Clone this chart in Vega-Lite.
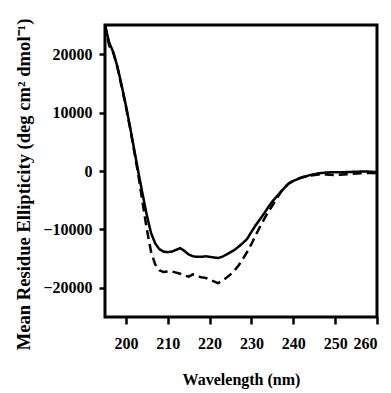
{
  "$schema": "https://vega.github.io/schema/vega-lite/v6.json",
  "autosize": "none",
  "width": 272,
  "height": 292,
  "padding": {"left": 105, "top": 25, "right": 14, "bottom": 76},
  "background": "white",
  "config": {
    "view": {"stroke": "black", "strokeWidth": 3},
    "axis": {"labelFont": "Liberation Serif", "titleFont": "Liberation Serif", "labelFontWeight": "bold", "titleFontWeight": "bold", "labelColor": "black", "titleColor": "black", "domainColor": "black", "tickColor": "black", "domainWidth": 3, "tickWidth": 2.5, "grid": false}
  },
  "datasets": {
    "cd": [
      {"wl": 195, "v": 25000, "s": "A"}, {"wl": 196, "v": 22000, "s": "A"}, {"wl": 197, "v": 20300, "s": "A"}, {"wl": 198, "v": 17800, "s": "A"}, {"wl": 199, "v": 14600, "s": "A"}, {"wl": 200, "v": 11200, "s": "A"}, {"wl": 201, "v": 7500, "s": "A"}, {"wl": 202, "v": 3600, "s": "A"}, {"wl": 203, "v": -300, "s": "A"}, {"wl": 204, "v": -4000, "s": "A"}, {"wl": 205, "v": -7600, "s": "A"}, {"wl": 206, "v": -10600, "s": "A"}, {"wl": 207, "v": -12400, "s": "A"}, {"wl": 208, "v": -13400, "s": "A"}, {"wl": 209, "v": -13800, "s": "A"}, {"wl": 210, "v": -13900, "s": "A"}, {"wl": 211, "v": -13800, "s": "A"}, {"wl": 212, "v": -13500, "s": "A"}, {"wl": 213, "v": -13200, "s": "A"}, {"wl": 214, "v": -13700, "s": "A"}, {"wl": 215, "v": -14300, "s": "A"}, {"wl": 216, "v": -14600, "s": "A"}, {"wl": 217, "v": -14700, "s": "A"}, {"wl": 218, "v": -14700, "s": "A"}, {"wl": 219, "v": -14600, "s": "A"}, {"wl": 220, "v": -14700, "s": "A"}, {"wl": 221, "v": -14800, "s": "A"}, {"wl": 222, "v": -14900, "s": "A"}, {"wl": 223, "v": -14700, "s": "A"}, {"wl": 224, "v": -14300, "s": "A"}, {"wl": 225, "v": -13900, "s": "A"}, {"wl": 226, "v": -13500, "s": "A"}, {"wl": 227, "v": -12900, "s": "A"}, {"wl": 228, "v": -12300, "s": "A"}, {"wl": 229, "v": -11600, "s": "A"}, {"wl": 230, "v": -10400, "s": "A"}, {"wl": 231, "v": -9300, "s": "A"}, {"wl": 232, "v": -8300, "s": "A"}, {"wl": 233, "v": -7300, "s": "A"}, {"wl": 234, "v": -6200, "s": "A"}, {"wl": 235, "v": -5200, "s": "A"}, {"wl": 236, "v": -4400, "s": "A"}, {"wl": 237, "v": -3600, "s": "A"}, {"wl": 238, "v": -2800, "s": "A"}, {"wl": 239, "v": -2100, "s": "A"}, {"wl": 240, "v": -1700, "s": "A"}, {"wl": 241, "v": -1400, "s": "A"}, {"wl": 242, "v": -1100, "s": "A"}, {"wl": 244, "v": -700, "s": "A"}, {"wl": 246, "v": -400, "s": "A"}, {"wl": 248, "v": -250, "s": "A"}, {"wl": 250, "v": -200, "s": "A"}, {"wl": 252, "v": -200, "s": "A"}, {"wl": 254, "v": -150, "s": "A"}, {"wl": 256, "v": -100, "s": "A"}, {"wl": 258, "v": -100, "s": "A"}, {"wl": 260, "v": -200, "s": "A"},
      {"wl": 195, "v": 25000, "s": "B"}, {"wl": 196, "v": 21500, "s": "B"}, {"wl": 197, "v": 20200, "s": "B"}, {"wl": 198, "v": 17600, "s": "B"}, {"wl": 199, "v": 14400, "s": "B"}, {"wl": 200, "v": 11000, "s": "B"}, {"wl": 201, "v": 7300, "s": "B"}, {"wl": 202, "v": 3300, "s": "B"}, {"wl": 203, "v": -800, "s": "B"}, {"wl": 204, "v": -5500, "s": "B"}, {"wl": 205, "v": -10000, "s": "B"}, {"wl": 206, "v": -13800, "s": "B"}, {"wl": 207, "v": -16000, "s": "B"}, {"wl": 208, "v": -17000, "s": "B"}, {"wl": 209, "v": -17300, "s": "B"}, {"wl": 210, "v": -17200, "s": "B"}, {"wl": 211, "v": -17200, "s": "B"}, {"wl": 212, "v": -17400, "s": "B"}, {"wl": 213, "v": -17600, "s": "B"}, {"wl": 214, "v": -17900, "s": "B"}, {"wl": 215, "v": -18100, "s": "B"}, {"wl": 216, "v": -17700, "s": "B"}, {"wl": 217, "v": -18000, "s": "B"}, {"wl": 218, "v": -18200, "s": "B"}, {"wl": 219, "v": -18300, "s": "B"}, {"wl": 220, "v": -18600, "s": "B"}, {"wl": 221, "v": -18900, "s": "B"}, {"wl": 222, "v": -19200, "s": "B"}, {"wl": 223, "v": -18800, "s": "B"}, {"wl": 224, "v": -18300, "s": "B"}, {"wl": 225, "v": -17700, "s": "B"}, {"wl": 226, "v": -17000, "s": "B"}, {"wl": 227, "v": -16100, "s": "B"}, {"wl": 228, "v": -15000, "s": "B"}, {"wl": 229, "v": -13800, "s": "B"}, {"wl": 230, "v": -12500, "s": "B"}, {"wl": 231, "v": -11000, "s": "B"}, {"wl": 232, "v": -9600, "s": "B"}, {"wl": 233, "v": -8300, "s": "B"}, {"wl": 234, "v": -7000, "s": "B"}, {"wl": 235, "v": -5900, "s": "B"}, {"wl": 236, "v": -4800, "s": "B"}, {"wl": 237, "v": -3600, "s": "B"}, {"wl": 238, "v": -2700, "s": "B"}, {"wl": 239, "v": -2100, "s": "B"}, {"wl": 240, "v": -1700, "s": "B"}, {"wl": 241, "v": -1400, "s": "B"}, {"wl": 242, "v": -1100, "s": "B"}, {"wl": 244, "v": -800, "s": "B"}, {"wl": 246, "v": -600, "s": "B"}, {"wl": 248, "v": -600, "s": "B"}, {"wl": 250, "v": -700, "s": "B"}, {"wl": 252, "v": -600, "s": "B"}, {"wl": 254, "v": -500, "s": "B"}, {"wl": 256, "v": -400, "s": "B"}, {"wl": 258, "v": -300, "s": "B"}, {"wl": 260, "v": -400, "s": "B"}
    ]
  },
  "data": {"name": "cd"},
  "mark": {"type": "line", "color": "black", "strokeWidth": 2.5, "clip": true},
  "encoding": {
    "x": {"field": "wl", "type": "quantitative", "scale": {"domain": [195, 260], "nice": false, "zero": false}, "axis": {"values": [200, 210, 220, 230, 240, 250, 260], "title": "Wavelength (nm)", "labelFontSize": 16, "titleFontSize": 16, "tickSize": 7, "labelPadding": 11, "titlePadding": 20, "domain": false}},
    "y": {"field": "v", "type": "quantitative", "scale": {"domain": [-25000, 25000], "nice": false}, "axis": {"values": [-20000, -10000, 0, 10000, 20000], "format": "d", "title": "Mean Residue Ellipticity (deg cm² dmol⁻¹)", "labelFontSize": 16, "titleFontSize": 18.6, "titleY": 159, "tickSize": 6, "labelPadding": 7, "titlePadding": 9, "domain": false}},
    "strokeDash": {"field": "s", "type": "nominal", "scale": {"domain": ["A", "B"], "range": [[1, 0], [9, 5]]}, "legend": null}
  }
}
